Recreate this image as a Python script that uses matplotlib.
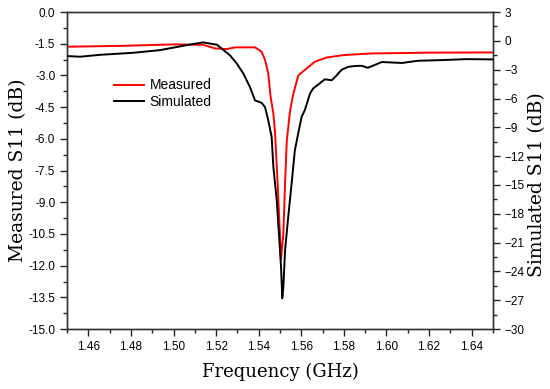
import matplotlib
matplotlib.use("Agg")
import matplotlib.pyplot as plt
from matplotlib.ticker import MultipleLocator, FormatStrFormatter

# Measured S11 (left axis, dB)
meas_f = [1.4500, 1.4750, 1.5002, 1.5139, 1.5195, 1.5251, 1.5289, 1.5383, 1.5414,
          1.5430, 1.5445, 1.5456, 1.5469, 1.5477, 1.5489, 1.5500, 1.5505, 1.5516,
          1.5524, 1.5532, 1.5547, 1.5562, 1.5586, 1.5625, 1.5664, 1.5719, 1.5796,
          1.5923, 1.6204, 1.6500]
meas_db = [-1.64, -1.60, -1.53, -1.55, -1.72, -1.75, -1.67, -1.67, -1.88,
           -2.27, -2.9, -4.0, -4.8, -5.7, -8.1, -10.5, -11.7, -10.5,
           -8.1, -6.1, -4.7, -3.9, -3.0, -2.67, -2.35, -2.15, -2.04,
           -1.96, -1.92, -1.91]

# Simulated S11 (right axis, dB)
sim_f = [1.4500, 1.4561, 1.4655, 1.4810, 1.4937, 1.5063, 1.5139, 1.5204, 1.5265,
         1.5297, 1.5328, 1.5359, 1.5383, 1.5414, 1.5430, 1.5445, 1.5461, 1.5469,
         1.5485, 1.5495, 1.5505, 1.5511, 1.5516, 1.5524, 1.5539, 1.5555, 1.5570,
         1.5586, 1.5602, 1.5617, 1.5641, 1.5656, 1.5688, 1.5711, 1.5743, 1.5766,
         1.5790, 1.5821, 1.5860, 1.5885, 1.5913, 1.5979, 1.6073, 1.6148, 1.6261,
         1.6378, 1.6500]
sim_db = [-1.58, -1.65, -1.45, -1.24, -0.96, -0.44, -0.16, -0.4, -1.5,
          -2.35, -3.4, -4.8, -6.2, -6.45, -6.9, -8.25, -10.0, -13.1,
          -16.6, -20.0, -23.5, -26.8, -25.6, -21.8, -18.3, -14.8, -11.4,
          -9.6, -7.9, -7.2, -5.5, -4.95, -4.4, -4.0, -4.1, -3.6,
          -3.0, -2.7, -2.6, -2.6, -2.8, -2.2, -2.3, -2.07, -2.0,
          -1.9, -1.93]

xticks = [1.46, 1.48, 1.50, 1.52, 1.54, 1.56, 1.58, 1.60, 1.62, 1.64]

fig = plt.figure(figsize=(5.5, 3.89), dpi=100)
ax = fig.add_axes([0.122, 0.154, 0.774, 0.815])
ax2 = ax.twinx()

l1, = ax.plot(meas_f, meas_db, color="#ff0000", lw=1.4, label="Measured")
l2, = ax2.plot(sim_f, sim_db, color="black", lw=1.4, label="Simulated")

ax.set_xlim(1.45, 1.65)
ax.set_ylim(-15, 0)
ax2.set_ylim(-30, 3)

ax.set_xticks(xticks)
ax.set_xticklabels([f"{v:.2f}" for v in xticks])
ax.xaxis.set_minor_locator(MultipleLocator(0.01))
ax.yaxis.set_major_locator(MultipleLocator(1.5))
ax.yaxis.set_minor_locator(MultipleLocator(0.75))
ax.yaxis.set_major_formatter(FormatStrFormatter("%.1f"))
ax2.yaxis.set_major_locator(MultipleLocator(3))
ax2.yaxis.set_minor_locator(MultipleLocator(1.5))

tickfont = "Liberation Sans"
for a in (ax, ax2):
    a.tick_params(which="major", direction="out", length=5, width=1, labelsize=8.5, color="#222222")
    a.tick_params(which="minor", direction="out", length=3, width=1, color="#222222")
    for lab in a.get_xticklabels() + a.get_yticklabels():
        lab.set_fontfamily(tickfont)
    for s in a.spines.values():
        s.set_color("#333333")
        s.set_linewidth(1.0)

serif = "DejaVu Serif"
ax.set_xlabel("Frequency (GHz)", fontsize=13, family=serif)
ax.xaxis.set_label_coords(0.5, -0.105)
ax.set_ylabel("Measured S11 (dB)", fontsize=13.5, family=serif)
ax.yaxis.set_label_coords(-0.093, 0.5)
ax2.set_ylabel("Simulated S11 (dB)", fontsize=13.5, family=serif)
ax2.yaxis.set_label_coords(1.083, 0.457)

ax.legend([l1, l2], ["Measured", "Simulated"], loc="upper left",
          bbox_to_anchor=(0.08, 0.83), frameon=False, handlelength=2.2,
          handletextpad=0.4, labelspacing=0.2, prop={"family": tickfont, "size": 10})

fig.savefig("out.png", dpi=100)
